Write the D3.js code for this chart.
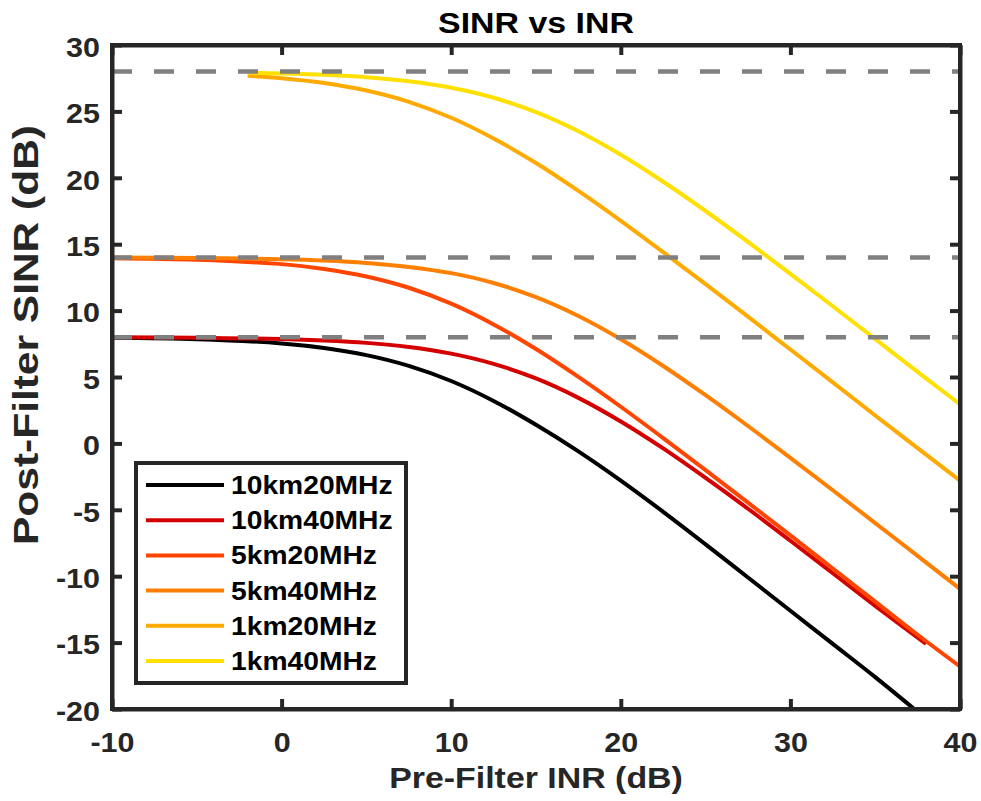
<!DOCTYPE html>
<html>
<head>
<meta charset="utf-8">
<script src="https://cdn.jsdelivr.net/npm/d3@7"></script>
<style>
  html, body { margin: 0; padding: 0; background: #ffffff; }
  svg { display: block; }
  text { font-family: "Liberation Sans", Arial, Helvetica, sans-serif; font-weight: bold; }
</style>
</head>
<body>
<svg id="chart" width="981" height="801"></svg>
<script>
// Pre-filter INR (dB) sample points and post-filter SINR (dB) per scenario
const inr10km20 = [-10, -5, 0, 2.5, 5, 7.5, 10, 12.5, 15, 17.5, 20, 22.5, 25, 27.5, 30, 32.5, 35, 37.3];
const sinr10km20 = [7.95, 7.85, 7.53, 7.19, 6.65, 5.84, 4.7, 3.2, 1.4, -0.6, -2.8, -5.15, -7.6, -10.1, -12.6, -15.1, -17.6, -20];

const inr10km40 = [-10, -5, 0, 2.5, 5, 7.5, 10, 12.5, 15, 17.5, 20, 22.5, 25, 27.5, 30, 32.5, 35, 38];
const sinr10km40 = [7.99, 7.95, 7.86, 7.75, 7.57, 7.26, 6.76, 5.99, 4.89, 3.43, 1.65, -0.38, -2.6, -4.92, -7.33, -9.78, -12.24, -15.1];

const inr5km20 = [-10, -5, 0, 2.5, 5, 7.5, 10, 12.5, 15, 17.5, 20, 22.5, 25, 27.5, 30, 32.5, 35, 37.5, 40];
const sinr5km20 = [13.95, 13.83, 13.5, 13.14, 12.57, 11.72, 10.52, 8.96, 7.11, 5.01, 2.76, 0.4, -2.01, -4.46, -6.93, -9.42, -11.91, -14.41, -16.8];

const inr5km40 = [-10, -5, 0, 2.5, 5, 7.5, 10, 12.5, 15, 17.5, 20, 22.5, 25, 27.5, 30, 32.5, 35, 37.5, 40];
const sinr5km40 = [13.99, 13.96, 13.87, 13.77, 13.59, 13.29, 12.82, 12.08, 11.01, 9.59, 7.84, 5.83, 3.63, 1.31, -1.09, -3.53, -6.0, -8.47, -10.96];

const inr1km20 = [-2, 0, 2.5, 5, 7.5, 10, 12.5, 15, 17.5, 20, 22.5, 25, 27.5, 30, 32.5, 35, 37.5, 40];
const sinr1km20 = [27.68, 27.5, 27.14, 26.57, 25.72, 24.52, 22.96, 21.11, 19.01, 16.76, 14.4, 11.99, 9.54, 7.07, 4.6, 2.1, -0.35, -2.8];

const inr1km40 = [-2, 0, 2.5, 5, 7.5, 10, 12.5, 15, 17.5, 20, 22.5, 25, 27.5, 30, 32.5, 35, 37.5, 40];
const sinr1km40 = [27.91, 27.86, 27.76, 27.58, 27.27, 26.78, 26.03, 24.94, 23.5, 21.73, 19.7, 17.5, 15.17, 12.77, 10.33, 7.86, 5.38, 2.95];

const seriesNames = ["10km20MHz", "10km40MHz", "5km20MHz", "5km40MHz", "1km20MHz", "1km40MHz"];
const seriesColors = ["#000000", "#d40000", "#ff4500", "#ff8000", "#ffaa00", "#ffe000"];
const seriesX = [inr10km20, inr10km40, inr5km20, inr5km40, inr1km20, inr1km40];
const seriesY = [sinr10km20, sinr10km40, sinr5km20, sinr5km40, sinr1km20, sinr1km40];

// Reference SINR levels (dB)
const refLevels = [28, 14, 8];

const xTicks = [-10, 0, 10, 20, 30, 40];
const yTicks = [-20, -15, -10, -5, 0, 5, 10, 15, 20, 25, 30];

const AX = "#262626";
const SX = 1.13; // horizontal text stretch

const svg = d3.select("#chart");
const plot = { left: 112, right: 960, top: 45, bottom: 709 };

const x = d3.scaleLinear().domain([-10, 40]).range([plot.left, plot.right]);
const y = d3.scaleLinear().domain([-20, 30]).range([plot.bottom, plot.top]);

svg.append("rect").attr("width", 981).attr("height", 801).attr("fill", "#ffffff");

// Curves
const line = d3.line()
  .x(d => x(d[0]))
  .y(d => y(d[1]))
  .curve(d3.curveCatmullRom.alpha(0.5));

const curves = svg.append("g");
seriesNames.forEach((name, i) => {
  const pts = seriesX[i].map((v, j) => [v, seriesY[i][j]]);
  curves.append("path")
    .datum(pts)
    .attr("d", line)
    .attr("fill", "none")
    .attr("stroke", seriesColors[i])
    .attr("stroke-width", 4)
    .attr("stroke-linejoin", "round");
});

// Dashed reference levels
svg.append("g").selectAll("line")
  .data(refLevels)
  .join("line")
  .attr("x1", x(-10)).attr("x2", x(40))
  .attr("y1", d => y(d)).attr("y2", d => y(d))
  .attr("stroke", "#808080")
  .attr("stroke-width", 4.5)
  .attr("stroke-dasharray", "20,22");

// Axes (ticks point inward on all four sides)
function styleAxis(g) {
  g.select(".domain").attr("stroke", AX).attr("stroke-width", 4);
  g.selectAll(".tick line").attr("stroke", AX).attr("stroke-width", 4);
}

const plainNum = d => String(d); // ASCII hyphen for negatives

const gx = svg.append("g")
  .attr("transform", `translate(0,${plot.bottom})`)
  .call(d3.axisBottom(x).tickValues(xTicks).tickFormat(plainNum).tickSize(-10).tickSizeOuter(0).tickPadding(24));
const gy = svg.append("g")
  .attr("transform", `translate(${plot.left},0)`)
  .call(d3.axisLeft(y).tickValues(yTicks).tickFormat(plainNum).tickSize(-10).tickSizeOuter(0).tickPadding(12));
const gt = svg.append("g")
  .attr("transform", `translate(0,${plot.top})`)
  .call(d3.axisTop(x).tickValues(xTicks).tickSize(-10).tickSizeOuter(0).tickFormat(""));
const gr = svg.append("g")
  .attr("transform", `translate(${plot.right},0)`)
  .call(d3.axisRight(y).tickValues(yTicks).tickSize(-10).tickSizeOuter(0).tickFormat(""));

[gx, gy, gt, gr].forEach(styleAxis);

gx.selectAll(".tick text")
  .attr("font-size", 27).attr("font-family", "Liberation Sans, Arial, sans-serif")
  .attr("font-weight", "bold").attr("fill", AX)
  .attr("transform", `scale(${SX},1)`);
gy.selectAll(".tick text")
  .attr("font-size", 27).attr("font-family", "Liberation Sans, Arial, sans-serif")
  .attr("font-weight", "bold").attr("fill", AX)
  .attr("dy", "0.42em")
  .attr("x", -12 / SX)
  .attr("transform", `scale(${SX},1)`);

// Plot box
svg.append("rect")
  .attr("x", plot.left).attr("y", plot.top)
  .attr("width", plot.right - plot.left).attr("height", plot.bottom - plot.top)
  .attr("fill", "none").attr("stroke", AX).attr("stroke-width", 4)
  .attr("stroke-linejoin", "miter");

// Title and axis labels
svg.append("text")
  .attr("transform", `translate(${(plot.left + plot.right) / 2},33) scale(${SX},1)`)
  .attr("text-anchor", "middle").attr("font-size", 30).attr("fill", "#000")
  .text("SINR vs INR");

svg.append("text")
  .attr("transform", `translate(${(plot.left + plot.right) / 2},788) scale(${SX},1)`)
  .attr("text-anchor", "middle").attr("font-size", 30).attr("fill", AX)
  .text("Pre-Filter INR (dB)");

svg.append("text")
  .attr("transform", `translate(38,335) rotate(-90) scale(1.18,1)`)
  .attr("text-anchor", "middle").attr("font-size", 36).attr("fill", AX)
  .text("Post-Filter SINR (dB)");

// Legend
const legend = svg.append("g");
legend.append("rect")
  .attr("x", 136).attr("y", 463).attr("width", 270).attr("height", 220)
  .attr("fill", "#ffffff").attr("stroke", AX).attr("stroke-width", 4);

seriesNames.forEach((name, i) => {
  const cy = 485 + i * 35.2;
  legend.append("line")
    .attr("x1", 146).attr("x2", 224).attr("y1", cy).attr("y2", cy)
    .attr("stroke", seriesColors[i]).attr("stroke-width", 4);
  legend.append("text")
    .attr("transform", `translate(231,${cy + 9}) scale(${SX},1)`)
    .attr("font-size", 25).attr("fill", "#000")
    .text(name);
});
</script>
</body>
</html>
